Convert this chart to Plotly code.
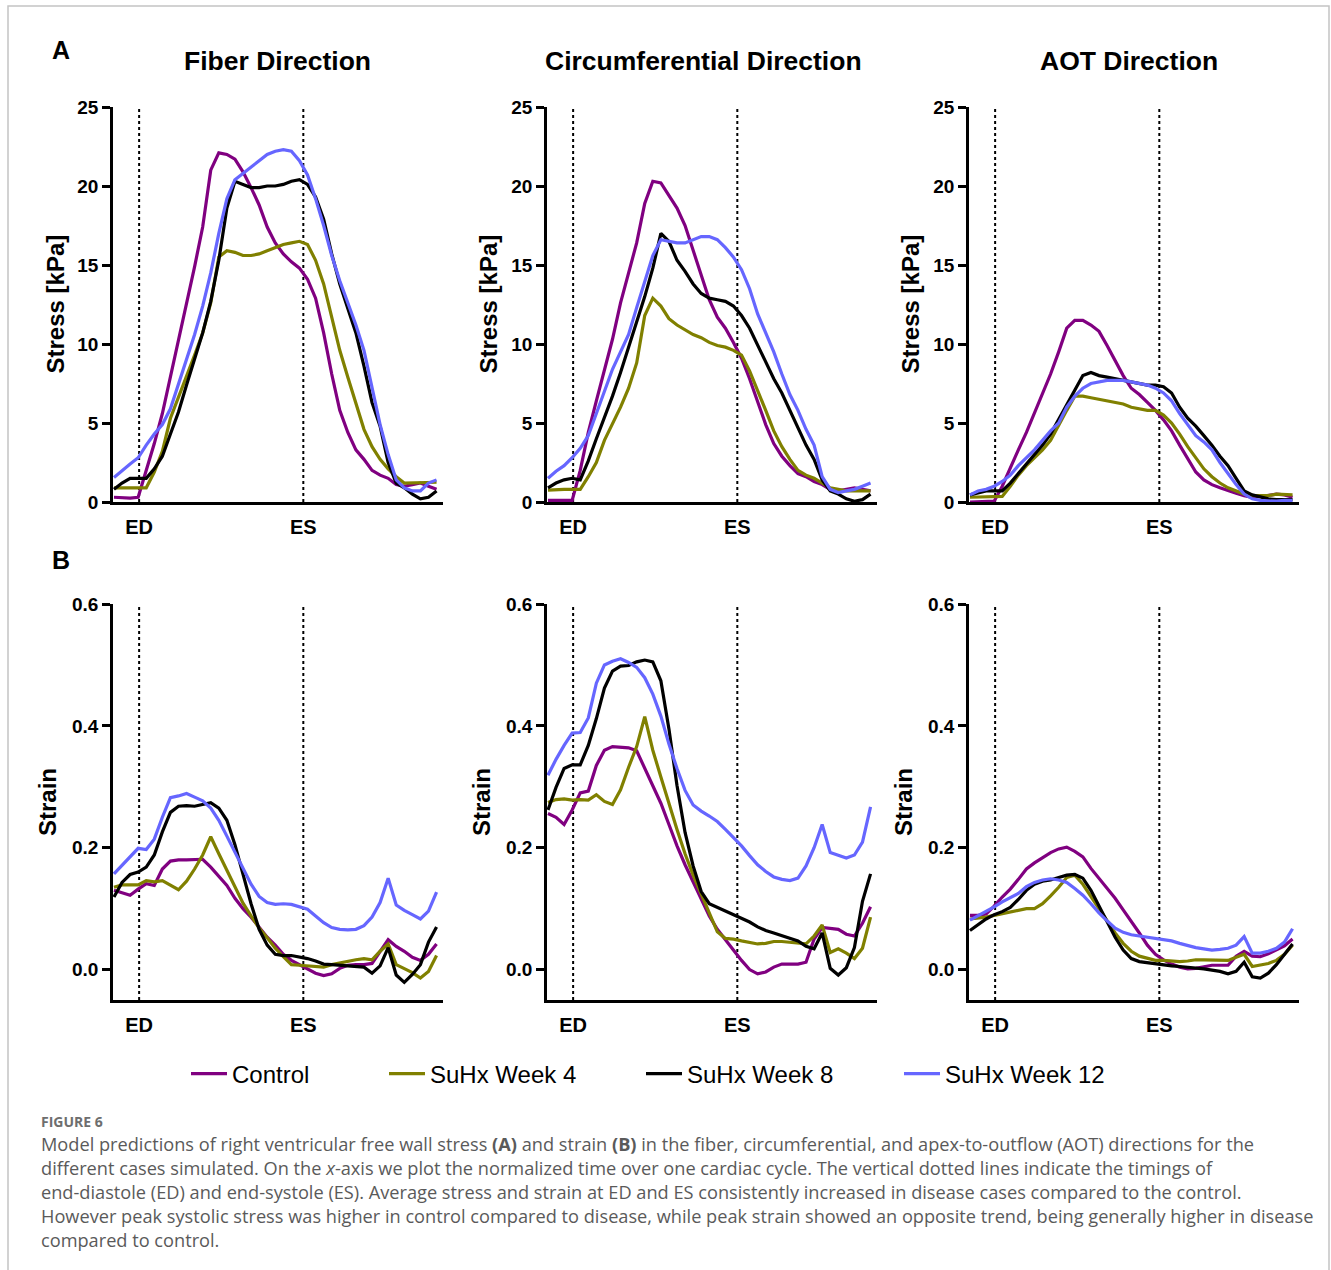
import plotly.graph_objects as go

# ---------------- data ----------------
TIME = [0.000, 0.025, 0.050, 0.075, 0.100, 0.125, 0.150, 0.175, 0.200, 0.225,
        0.250, 0.275, 0.300, 0.325, 0.350, 0.375, 0.400, 0.425, 0.450, 0.475,
        0.500, 0.525, 0.550, 0.575, 0.600, 0.625, 0.650, 0.675, 0.700, 0.725,
        0.750, 0.775, 0.800, 0.825, 0.850, 0.875, 0.900, 0.925, 0.950, 0.975, 1.000]
ED_T = 0.078
ES_T = 0.587

SERIES = ["Control", "SuHx Week 4", "SuHx Week 8", "SuHx Week 12"]
COLORS = ["#800080", "#808000", "#000000", "#6666FF"]

# Stress [kPa] - fiber
stress_fiber_control = [0.3,0.25,0.25,0.3,2.0,3.7,5.6,7.9,10.2,12.6,14.9,17.4,21.0,22.1,22.0,21.7,20.9,19.9,18.8,17.4,16.4,15.7,15.2,14.8,14.1,12.9,10.7,8.1,5.8,4.4,3.3,2.7,2.0,1.7,1.5,1.1,1.0,1.1,1.2,1.0,0.8]
stress_fiber_w4 = [0.9,0.9,0.9,0.9,0.9,1.9,3.2,5.3,6.6,7.9,9.3,10.7,12.6,15.5,15.9,15.8,15.6,15.6,15.7,15.9,16.1,16.3,16.4,16.5,16.3,15.3,13.8,11.8,9.6,7.9,6.3,4.6,3.5,2.7,2.1,1.6,1.2,1.2,1.2,1.2,1.25]
stress_fiber_w8 = [0.8,1.2,1.5,1.5,1.5,2.1,2.9,4.3,5.7,7.4,9.0,10.7,12.7,15.3,18.6,20.3,20.1,19.9,19.9,20.0,20.0,20.1,20.3,20.4,20.1,19.3,17.9,15.7,13.8,12.3,10.7,8.6,6.3,4.8,2.5,1.2,0.9,0.5,0.2,0.3,0.7]
stress_fiber_w12 = [1.55,2.0,2.4,2.8,3.6,4.3,4.9,5.9,7.5,9.1,10.6,12.4,14.5,17.0,19.2,20.4,20.8,21.2,21.6,22.0,22.2,22.3,22.2,21.6,20.7,19.2,17.5,15.6,14.0,12.6,11.2,9.6,7.2,4.9,3.0,1.4,0.9,0.7,0.7,1.2,1.4]

# Stress [kPa] - circumferential
stress_circ_control = [0.1,0.1,0.1,0.1,2.0,4.4,6.4,8.3,10.3,12.6,14.5,16.4,18.9,20.3,20.2,19.4,18.6,17.5,15.9,14.4,12.8,11.7,11.0,10.1,9.1,7.8,6.4,4.9,3.7,2.9,2.3,1.8,1.6,1.3,1.1,0.8,0.7,0.8,0.9,0.8,0.7]
stress_circ_w4 = [0.75,0.8,0.8,0.8,0.8,1.6,2.5,3.9,4.9,6.0,7.2,8.8,11.8,12.9,12.4,11.6,11.2,10.9,10.6,10.4,10.1,9.9,9.8,9.6,9.3,8.3,7.1,5.8,4.5,3.5,2.7,2.0,1.7,1.5,1.2,0.9,0.8,0.7,0.7,0.7,0.7]
stress_circ_w8 = [0.9,1.2,1.4,1.5,1.4,2.6,4.0,5.3,6.7,8.2,9.8,11.4,13.0,14.8,17.0,16.5,15.3,14.6,13.8,13.2,12.9,12.8,12.7,12.4,11.8,11.0,9.9,8.9,7.8,6.9,5.8,4.8,3.6,2.7,1.4,0.7,0.5,0.2,0.05,0.15,0.5]
stress_circ_w12 = [1.5,1.95,2.3,2.8,3.4,4.2,5.6,7.0,8.4,9.5,10.6,12.3,14.0,15.6,16.6,16.5,16.4,16.4,16.6,16.8,16.8,16.6,16.1,15.5,14.7,13.5,11.9,10.7,9.5,8.1,6.8,5.8,4.6,3.6,1.6,0.8,0.6,0.7,0.8,1.0,1.2]

# Stress [kPa] - AOT
stress_aot_control = [0.0,0.0,0.0,0.05,1.0,2.2,3.3,4.4,5.6,6.9,8.1,9.5,11.0,11.5,11.5,11.2,10.8,9.9,8.9,8.0,7.2,6.8,6.3,5.8,5.2,4.5,3.6,2.7,1.9,1.4,1.1,0.9,0.7,0.55,0.4,0.3,0.35,0.4,0.5,0.45,0.3]
stress_aot_w4 = [0.3,0.3,0.3,0.3,0.35,1.0,1.7,2.3,2.8,3.3,3.9,4.9,5.8,6.7,6.7,6.6,6.5,6.4,6.3,6.2,6.0,5.9,5.8,5.8,5.5,5.0,4.3,3.5,2.8,2.1,1.6,1.2,0.9,0.7,0.5,0.4,0.4,0.4,0.5,0.5,0.45]
stress_aot_w8 = [0.45,0.6,0.7,0.7,0.7,1.2,1.8,2.4,3.0,3.6,4.3,5.2,6.1,7.0,8.0,8.2,8.0,7.9,7.8,7.7,7.6,7.5,7.4,7.4,7.3,6.9,6.0,5.3,4.8,4.2,3.6,2.9,2.3,1.5,0.7,0.45,0.3,0.2,0.15,0.15,0.15]
stress_aot_w12 = [0.45,0.7,0.8,1.0,1.3,1.7,2.3,2.8,3.3,3.9,4.5,5.0,6.0,6.7,7.2,7.5,7.6,7.7,7.7,7.7,7.6,7.5,7.4,7.2,6.9,6.4,5.6,4.9,4.2,3.8,3.3,2.5,1.8,1.1,0.5,0.2,0.1,0.05,0.05,0.1,0.1]

# Strain - fiber
strain_fiber_control = [0.130,0.126,0.122,0.132,0.141,0.138,0.165,0.178,0.180,0.180,0.181,0.181,0.168,0.152,0.138,0.117,0.100,0.086,0.069,0.053,0.040,0.025,0.015,0.008,0.002,-0.006,-0.010,-0.007,0.002,0.007,0.008,0.008,0.010,0.030,0.049,0.038,0.030,0.020,0.015,0.025,0.042]
strain_fiber_w4 = [0.135,0.139,0.139,0.139,0.146,0.144,0.146,0.139,0.131,0.145,0.165,0.188,0.218,0.190,0.162,0.134,0.109,0.088,0.068,0.052,0.035,0.021,0.008,0.007,0.006,0.005,0.004,0.008,0.011,0.014,0.016,0.018,0.016,0.030,0.042,0.008,0.002,-0.005,-0.014,-0.003,0.023]
strain_fiber_w8 = [0.119,0.143,0.156,0.160,0.168,0.188,0.226,0.258,0.268,0.269,0.268,0.271,0.274,0.265,0.245,0.205,0.158,0.108,0.066,0.040,0.025,0.023,0.023,0.021,0.018,0.014,0.009,0.008,0.007,0.006,0.004,0.004,-0.006,0.006,0.036,-0.009,-0.021,-0.008,0.008,0.045,0.070]
strain_fiber_w12 = [0.157,0.171,0.186,0.199,0.197,0.214,0.250,0.282,0.285,0.289,0.283,0.277,0.265,0.245,0.219,0.192,0.165,0.140,0.120,0.110,0.107,0.108,0.107,0.103,0.099,0.088,0.077,0.069,0.066,0.065,0.066,0.072,0.086,0.110,0.150,0.106,0.097,0.090,0.083,0.096,0.127]

# Strain - circumferential
strain_circ_control = [0.256,0.250,0.238,0.262,0.290,0.293,0.335,0.360,0.366,0.365,0.364,0.359,0.330,0.302,0.273,0.238,0.203,0.172,0.144,0.113,0.088,0.066,0.049,0.030,0.015,0.000,-0.007,-0.004,0.004,0.009,0.009,0.009,0.012,0.050,0.069,0.067,0.066,0.058,0.055,0.076,0.103]
strain_circ_w4 = [0.274,0.279,0.280,0.278,0.279,0.278,0.287,0.276,0.271,0.295,0.332,0.366,0.415,0.360,0.316,0.272,0.230,0.190,0.155,0.124,0.093,0.062,0.051,0.050,0.047,0.044,0.042,0.043,0.046,0.046,0.045,0.043,0.042,0.055,0.073,0.028,0.034,0.027,0.018,0.035,0.086]
strain_circ_w8 = [0.262,0.299,0.330,0.336,0.336,0.368,0.412,0.462,0.490,0.498,0.499,0.505,0.508,0.505,0.474,0.395,0.302,0.225,0.170,0.128,0.108,0.102,0.097,0.090,0.084,0.078,0.070,0.064,0.060,0.056,0.052,0.047,0.038,0.034,0.060,0.002,-0.009,0.003,0.036,0.112,0.157]
strain_circ_w12 = [0.319,0.345,0.368,0.388,0.389,0.413,0.470,0.500,0.506,0.510,0.504,0.496,0.479,0.452,0.416,0.370,0.330,0.294,0.270,0.260,0.252,0.243,0.230,0.216,0.203,0.187,0.172,0.161,0.152,0.148,0.146,0.150,0.170,0.200,0.238,0.192,0.188,0.183,0.188,0.209,0.267]

# Strain - AOT
strain_aot_control = [0.089,0.089,0.091,0.104,0.119,0.132,0.148,0.165,0.175,0.184,0.192,0.198,0.201,0.194,0.185,0.166,0.150,0.135,0.117,0.098,0.080,0.060,0.040,0.025,0.016,0.009,0.004,0.001,0.002,0.005,0.007,0.007,0.007,0.022,0.030,0.022,0.021,0.026,0.032,0.039,0.050]
strain_aot_w4 = [0.083,0.084,0.086,0.089,0.092,0.094,0.098,0.100,0.100,0.108,0.121,0.135,0.151,0.155,0.140,0.120,0.100,0.080,0.060,0.043,0.030,0.022,0.018,0.015,0.015,0.014,0.013,0.014,0.016,0.016,0.016,0.015,0.015,0.020,0.025,0.005,0.007,0.010,0.015,0.025,0.040]
strain_aot_w8 = [0.064,0.074,0.083,0.090,0.095,0.102,0.115,0.130,0.140,0.145,0.147,0.151,0.155,0.156,0.150,0.130,0.105,0.080,0.053,0.032,0.018,0.013,0.011,0.009,0.008,0.006,0.005,0.004,0.002,0.001,-0.001,-0.003,-0.007,-0.003,0.012,-0.012,-0.014,-0.006,0.008,0.025,0.042]
strain_aot_w12 = [0.081,0.088,0.095,0.103,0.111,0.118,0.125,0.136,0.143,0.147,0.149,0.147,0.143,0.133,0.122,0.108,0.093,0.080,0.068,0.061,0.057,0.055,0.053,0.051,0.050,0.047,0.043,0.039,0.036,0.034,0.032,0.033,0.035,0.040,0.054,0.027,0.027,0.030,0.035,0.045,0.067]

PANEL_TITLES = ["Fiber Direction", "Circumferential Direction", "AOT Direction"]
STRESS_TICKS = [0, 5, 10, 15, 20, 25]
STRAIN_TICKS = [0.0, 0.2, 0.4, 0.6]
STRAIN_TICKTEXT = ["0.0", "0.2", "0.4", "0.6"]

CAPTION_LINES = [
    "Model predictions of right ventricular free wall stress <b>(A)</b> and strain <b>(B)</b> in the fiber, circumferential, and apex-to-outflow (AOT) directions for the",
    "different cases simulated. On the <i>x</i>-axis we plot the normalized time over one cardiac cycle. The vertical dotted lines indicate the timings of",
    "end-diastole (ED) and end-systole (ES). Average stress and strain at ED and ES consistently increased in disease cases compared to the control.",
    "However peak systolic stress was higher in control compared to disease, while peak strain showed an opposite trend, being generally higher in disease",
    "compared to control.",
]

panels = [
    [stress_fiber_control, stress_fiber_w4, stress_fiber_w8, stress_fiber_w12],
    [stress_circ_control, stress_circ_w4, stress_circ_w8, stress_circ_w12],
    [stress_aot_control, stress_aot_w4, stress_aot_w8, stress_aot_w12],
    [strain_fiber_control, strain_fiber_w4, strain_fiber_w8, strain_fiber_w12],
    [strain_circ_control, strain_circ_w4, strain_circ_w8, strain_circ_w12],
    [strain_aot_control, strain_aot_w4, strain_aot_w8, strain_aot_w12],
]

# ---------------- layout helpers (pixels -> paper) ----------------
W, H = 1331, 1270
def xd(px): return px / W
def yd(py): return 1 - py / H

COL_X0 = [113, 547, 969]
COL_W = 330
ROW_Y = [(107, 502), (604, 1000)]
FONT = "Liberation Sans, Arial, Helvetica, sans-serif"
CAP_FONT = "Open Sans, sans-serif"

fig = go.Figure()
legends = ["legend", "legend2", "legend3", "legend4"]

for p, series in enumerate(panels):
    ax = "" if p == 0 else str(p + 1)
    for s, vals in enumerate(series):
        fig.add_trace(go.Scatter(
            x=TIME, y=vals, mode="lines", name=SERIES[s],
            line=dict(color=COLORS[s], width=3.2),
            xaxis="x" + ax, yaxis="y" + ax,
            showlegend=(p == 0), legend=legends[s],
        ))

layout = dict(
    template="none",
    width=W, height=H, margin=dict(l=0, r=0, t=0, b=0, pad=0, autoexpand=False),
    paper_bgcolor="white", plot_bgcolor="white",
    font=dict(family=FONT, color="black"),
    showlegend=True, shapes=[], annotations=[],
)

for p in range(6):
    row, col = divmod(p, 3)
    ax = "" if p == 0 else str(p + 1)
    y_top, y_bot = ROW_Y[row]
    layout["xaxis" + ax] = dict(
        domain=[xd(COL_X0[col]), xd(COL_X0[col] + COL_W)],
        range=[-0.003, 1.02], anchor="y" + ax, automargin=False,
        showline=True, linewidth=2.5, linecolor="black",
        showgrid=False, zeroline=False,
        tickvals=[ED_T, ES_T], ticktext=["ED", "ES"],
        ticks="outside", ticklen=5, tickcolor="rgba(0,0,0,0)",
        tickfont=dict(size=20, family=FONT, weight="bold", color="black"),
        fixedrange=True,
    )
    ydict = dict(
        domain=[yd(y_bot), yd(y_top)], anchor="x" + ax, automargin=False,
        showline=True, linewidth=2.5, linecolor="black",
        showgrid=False, zeroline=False,
        ticks="outside", ticklen=8, tickwidth=2.5, tickcolor="black",
        tickfont=dict(size=19, family=FONT, weight="bold", color="black"),
        fixedrange=True,
    )
    if row == 0:
        ydict.update(range=[0, 25], tickvals=STRESS_TICKS)
    else:
        ydict.update(range=[-0.05, 0.6], tickvals=STRAIN_TICKS, ticktext=STRAIN_TICKTEXT)
    layout["yaxis" + ax] = ydict

    for tv in (ED_T, ES_T):
        layout["shapes"].append(dict(
            type="line", xref="x" + ax, yref="y" + ax + " domain",
            x0=tv, x1=tv, y0=0, y1=1,
            line=dict(color="black", width=2, dash="dot"), layer="below",
        ))

# y-axis titles
YT_X = [[55, 488, 910], [47, 481, 903]]
for row in range(2):
    for col in range(3):
        y_top, y_bot = ROW_Y[row]
        layout["annotations"].append(dict(
            text="Stress [kPa]" if row == 0 else "Strain",
            xref="paper", yref="paper", x=xd(YT_X[row][col]), y=yd((y_top + y_bot) / 2),
            xanchor="center", yanchor="middle", textangle=-90, showarrow=False,
            font=dict(size=24, family=FONT, weight="bold", color="black"),
        ))

# panel titles
for col, (t, cx) in enumerate(zip(PANEL_TITLES, [277, 703, 1129])):
    layout["annotations"].append(dict(
        text=t, xref="paper", yref="paper", x=xd(cx), y=yd(61),
        xanchor="center", yanchor="middle", showarrow=False,
        font=dict(size=26.5, family=FONT, weight="bold", color="black"),
    ))

# panel letters
for letter, py in (("A", 50), ("B", 560)):
    layout["annotations"].append(dict(
        text=letter, xref="paper", yref="paper", x=xd(61), y=yd(py),
        xanchor="center", yanchor="middle", showarrow=False,
        font=dict(size=25, family=FONT, weight="bold", color="black"),
    ))

# caption
layout["annotations"].append(dict(
    text="FIGURE 6", xref="paper", yref="paper", x=xd(39), y=yd(1121),
    xanchor="left", yanchor="middle", showarrow=False,
    font=dict(size=14, family=CAP_FONT, weight="bold", color="#6e6e6e"),
))
for i, line in enumerate(CAPTION_LINES):
    layout["annotations"].append(dict(
        text=line, xref="paper", yref="paper", x=xd(39), y=yd(1144 + 24 * i),
        xanchor="left", yanchor="middle", showarrow=False,
        font=dict(size=18.2, family=CAP_FONT, color="#5a5a5a"),
    ))

# border
layout["shapes"].append(dict(
    type="rect", xref="paper", yref="paper",
    x0=xd(8), x1=xd(1329), y0=yd(1290), y1=yd(6),
    line=dict(color="#c4c4c4", width=1.5), fillcolor="rgba(0,0,0,0)", layer="below",
))

# legends (one per series, placed in a row)
LEG_X = [186, 384, 641, 899]
for i, lg in enumerate(legends):
    layout[lg] = dict(
        x=xd(LEG_X[i]), y=yd(1074), xanchor="left", yanchor="middle",
        orientation="h", bgcolor="rgba(0,0,0,0)", borderwidth=0,
        font=dict(size=24, family=FONT, color="black"), itemwidth=36,
    )

fig.update_layout(**layout)

fig.write_html(
    "out.html",
    config={"displayModeBar": False},
    post_script="document.body.style.margin='0';document.body.style.overflow='hidden';",
)
